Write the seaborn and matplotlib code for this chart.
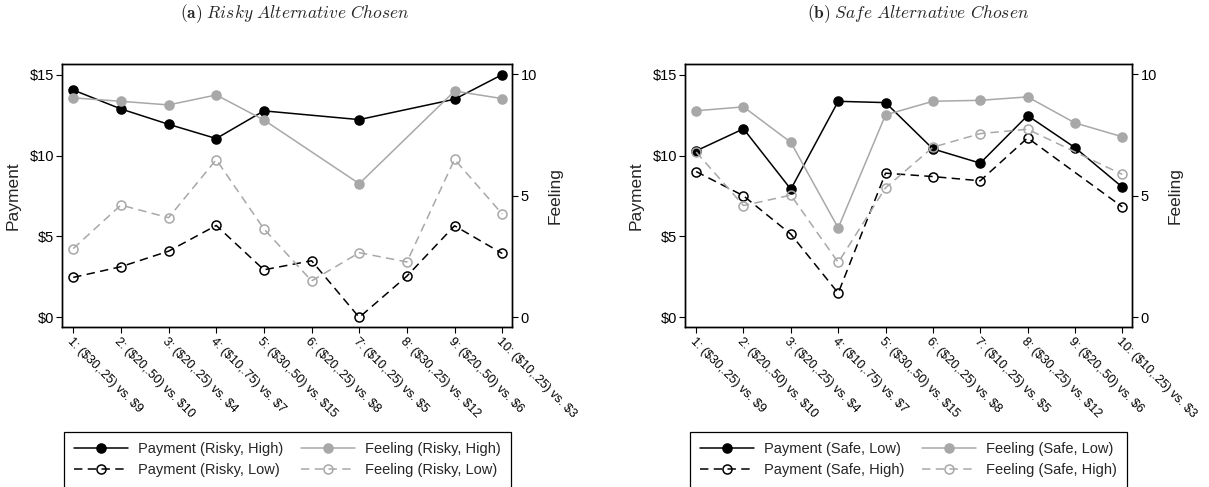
import numpy as np
import pandas as pd
import matplotlib
matplotlib.use("Agg")
import matplotlib.pyplot as plt
import seaborn as sns
from matplotlib.lines import Line2D

nan = np.nan

# ---- data ----
choice_labels = [
    "1: ($30,.25) vs. $9", "2: ($20,.50) vs. $10", "3: ($20,.25) vs. $4",
    "4: ($10,.75) vs. $7", "5: ($30,.50) vs. $15", "6: ($20,.25) vs. $8",
    "7: ($10,.25) vs. $5", "8: ($30,.25) vs. $12", "9: ($20,.50) vs. $6",
    "10: ($10,.25) vs. $3",
]
choice_num = list(range(1, 11))

# Panel (a): risky alternative chosen
pay_risky_high = [14.05, 12.88, 11.93, 11.05, 12.76, nan, 12.22, nan, 13.48, 15.00]
feel_risky_high = [9.03, 8.89, 8.74, 9.15, 8.12, nan, 5.50, nan, 9.31, 9.00]
pay_risky_low = [2.47, 3.13, 4.09, 5.68, 2.94, 3.50, 0.00, 2.55, 5.66, 3.95]
feel_risky_low = [2.83, 4.62, 4.10, 6.49, 3.64, 1.50, 2.66, 2.28, 6.50, 4.25]

# Panel (b): safe alternative chosen
pay_safe_low = [10.29, 11.65, 7.92, 13.35, 13.27, 10.41, 9.53, 12.47, 10.49, 8.05]
feel_safe_low = [8.50, 8.66, 7.20, 3.68, 8.33, 8.89, 8.93, 9.07, 8.00, 7.43]
pay_safe_high = [9.01, 7.51, 5.14, 1.50, 8.91, 8.70, 8.44, 11.09, nan, 6.83]
feel_safe_high = [6.80, 4.60, 5.03, 2.26, 5.33, 7.00, 7.56, 7.74, nan, 5.88]

pay_ticks = [0, 5, 10, 15]
pay_tick_labels = ["$0", "$5", "$10", "$15"]
feel_ticks = [0, 5, 10]

names_a = ["Payment (Risky, High)", "Payment (Risky, Low)",
           "Feeling (Risky, High)", "Feeling (Risky, Low)"]
names_b = ["Payment (Safe, Low)", "Payment (Safe, High)",
           "Feeling (Safe, Low)", "Feeling (Safe, High)"]

# ---- style ----
sns.set_theme(style="ticks")
plt.rcParams['font.family'] = ['Liberation Sans', 'DejaVu Sans']
plt.rcParams['mathtext.fontset'] = 'cm'

BLACK = "black"
GRAY = "#a8a8a8"
LW = 1.1
MS = 6.5
DASH = [5.5, 3.5]


def esc(s):
    return s.replace("$", r"\$")


def style_line(ln, col, dashed):
    ln.set_color(col)
    ln.set_linewidth(LW)
    ln.set_marker("o")
    ln.set_markersize(MS)
    ln.set_markeredgecolor(col)
    ln.set_markeredgewidth(1.1)
    ln.set_markerfacecolor("none" if dashed else col)
    if dashed:
        ln.set_dashes(DASH)


def panel(ax, pay_hi, pay_lo, feel_hi, feel_lo, names):
    ax2 = ax.twinx()
    specs = [
        (ax, pay_hi, BLACK, False),
        (ax, pay_lo, BLACK, True),
        (ax2, feel_hi, GRAY, False),
        (ax2, feel_lo, GRAY, True),
    ]
    handles = []
    for a, vals, col, dashed in specs:
        df = pd.DataFrame({"x": choice_num, "y": vals}).dropna()
        sns.lineplot(data=df, x="x", y="y", ax=a, estimator=None,
                     legend=False, color=col, marker="o")
        style_line(a.lines[-1], col, dashed)
        h = Line2D([], [])
        style_line(h, col, dashed)
        handles.append(h)

    ax.set_xlim(0.77, 10.21)
    ax.set_ylim(-0.58, 15.65)
    ax2.set_ylim(-0.387, 10.42)

    ax.set_xticks(choice_num)
    ax.set_xticklabels([esc(s) for s in choice_labels], rotation=-45,
                       ha="left", va="top", rotation_mode="anchor",
                       fontsize=9)
    ax.set_yticks(pay_ticks)
    ax.set_yticklabels([esc(s) for s in pay_tick_labels], fontsize=10.5)
    ax2.set_yticks(feel_ticks)
    ax2.set_yticklabels([str(t) for t in feel_ticks], fontsize=10.5)

    ax.set_xlabel("")
    ax.set_ylabel("Payment", fontsize=12.5, labelpad=6)
    ax2.set_ylabel("Feeling", fontsize=12.5, labelpad=8)

    for a in (ax, ax2):
        a.tick_params(direction="out", length=4, width=0.8, colors="black",
                      pad=2)
        for sp in a.spines.values():
            sp.set_visible(True)
            sp.set_color("black")
            sp.set_linewidth(1.0)

    leg = ax.legend(handles, names, ncol=2, loc="upper center",
                    bbox_to_anchor=(0.5, -0.40), frameon=True, fancybox=False,
                    edgecolor="black", fontsize=10.5, handlelength=3.7,
                    columnspacing=1.2, handletextpad=0.7, borderpad=0.7,
                    labelspacing=0.5, borderaxespad=0)
    leg.get_frame().set_linewidth(0.9)
    leg.get_frame().set_alpha(1)
    return ax2


fig = plt.figure(figsize=(12.09, 4.87), dpi=100)
axA = fig.add_axes([0.0515, 0.329, 0.3722, 0.5394])
axB = fig.add_axes([0.5668, 0.329, 0.3697, 0.5394])

panel(axA, pay_risky_high, pay_risky_low, feel_risky_high, feel_risky_low, names_a)
panel(axB, pay_safe_low, pay_safe_high, feel_safe_low, feel_safe_high, names_b)

fig.text(295 / 1209, 1 - 14 / 487,
         r"$\mathbf{(a)}$ $\mathit{Risky\ Alternative\ Chosen}$",
         ha="center", va="center", fontsize=12.5)
fig.text(918 / 1209, 1 - 14 / 487,
         r"$\mathbf{(b)}$ $\mathit{Safe\ Alternative\ Chosen}$",
         ha="center", va="center", fontsize=12.5)

fig.savefig("out.png", dpi=100)
